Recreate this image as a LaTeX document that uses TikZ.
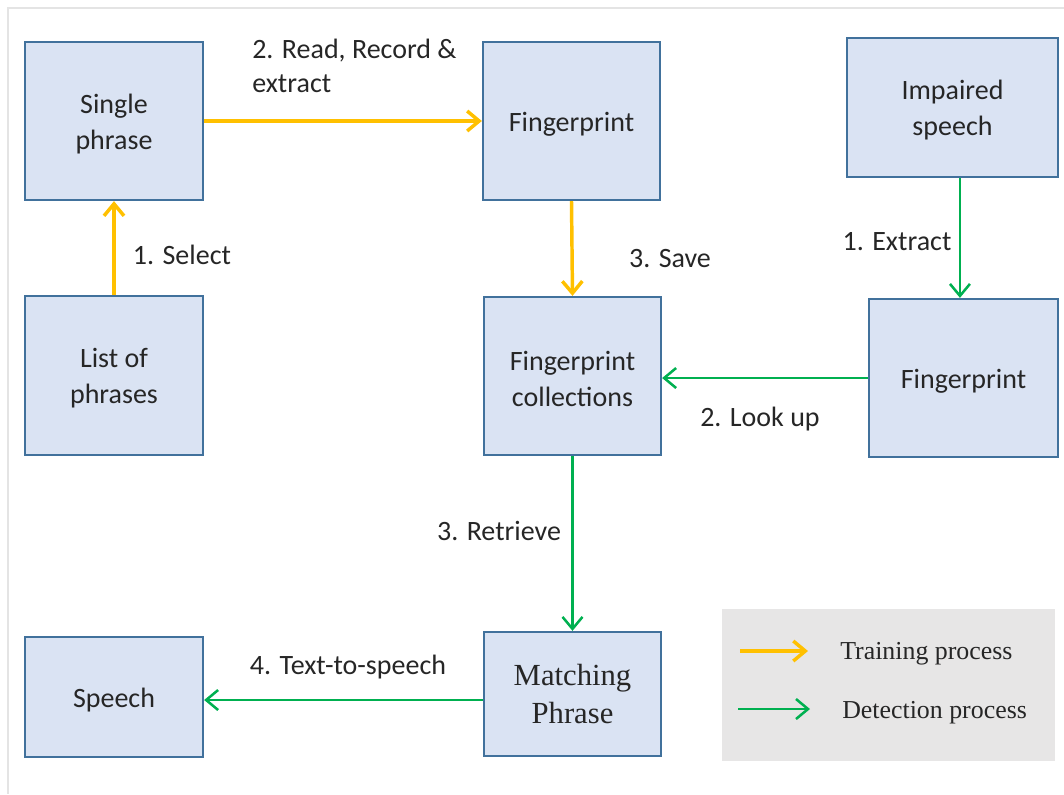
\documentclass[tikz,border=0pt]{standalone}
\usepackage{fontspec}
\setmainfont{Carlito}
\newfontfamily\tnr{Liberation Serif}
\usetikzlibrary{arrows.meta,calc}
\newcommand\toplift{\rule{0pt}{19pt}}
\definecolor{boxblue}{HTML}{41719C}
\definecolor{boxfill}{HTML}{DAE3F3}
\definecolor{trainc}{HTML}{FFC000}
\definecolor{detc}{HTML}{00B050}
\definecolor{txt}{HTML}{262626}
\definecolor{legbg}{HTML}{E7E6E6}
\definecolor{frame}{HTML}{E4E4E4}
\tikzset{
  procbox/.style={draw=boxblue, fill=boxfill, line width=1.7pt, inner sep=0pt,
    align=center, text=txt, font=\fontsize{21}{27}\selectfont},
  lbl/.style={text=txt, inner sep=0pt, font=\fontsize{21}{26}\selectfont},
  legtxt/.style={text=txt, inner sep=0pt, font=\tnr\fontsize{19.4}{23}\selectfont, anchor=west},
  trainarrow/.style={draw=trainc, line width=2.6pt, -{Straight Barb[length=9pt,width=15pt,line width=2.6pt]}},
  detarrow/.style={draw=detc, line width=1.9pt, -{Straight Barb[length=9pt,width=15pt,line width=1.9pt]}}
}
\begin{document}
\begin{tikzpicture}[x=0.75pt,y=-0.75pt]
\useasboundingbox (0,0) rectangle (1064,794);
% outer frame (top and left edges)
\draw[frame, line width=2pt] (8,794) -- (8,8) -- (1064,8);

% boxes
\node[procbox, minimum width=133.5pt, minimum height=118.5pt] (sp) at (114,121) {\toplift Single\\phrase};
\node[procbox, minimum width=132.75pt, minimum height=118.5pt] (fp1) at (571.5,121) {\toplift Fingerprint};
\node[procbox, minimum width=158.25pt, minimum height=104.25pt] (imp) at (952.5,107.5) {\toplift Impaired\\speech};
\node[procbox, minimum width=133.5pt, minimum height=119.25pt] (lp) at (114,375.5) {\toplift List of\\phrases};
\node[procbox, minimum width=132.75pt, minimum height=118.5pt] (fc) at (572.5,376) {\toplift Fingerprint\\collections};
\node[procbox, minimum width=141.75pt, minimum height=118.5pt] (fp2) at (963.5,378) {\toplift Fingerprint};
\node[procbox, minimum width=133.5pt, minimum height=90pt] (spc) at (114,697) {\toplift Speech};
\node[procbox, minimum width=132.75pt, minimum height=93pt, font=\tnr\fontsize{23}{28.5}\selectfont] (mp) at (572.5,694) {Matching\\Phrase};

% training arrows
\draw[trainarrow] (lp.north) -- (sp.south);
\draw[trainarrow] (sp.east) -- (fp1.west);
\draw[trainarrow] (fp1.south) -- (fc.north);

% detection arrows
\coordinate (e1) at ([xshift=5.6pt]imp.south);
\draw[detarrow] (e1) -- (e1 |- fp2.north);
\draw[detarrow] (fp2.west) -- (fp2.west -| fc.east);
\draw[detarrow] (fc.south) -- (mp.north);
\coordinate (m1) at ([yshift=-4.5pt]mp.west);
\draw[detarrow] (m1) -- (m1 -| spc.east);

% labels
\node[lbl, anchor=west, align=left] (l1) at (252,66) {2. Read, Record \&\\extract};
\node[lbl] (l2) at (182,255) {1. Select};
\node[lbl] (l3) at (670,259) {3. Save};
\node[lbl] (l4) at (897,242) {1. Extract};
\node[lbl] (l5) at (760,419) {2. Look up};
\node[lbl] (l6) at (499,531) {3. Retrieve};
\node[lbl] (l7) at (348,667) {4. Text-to-speech};

% legend
\node[fill=legbg, inner sep=0pt, minimum width=249.75pt, minimum height=114pt] (leg) at (888.5,685) {};
\coordinate (ya) at (740,651);
\coordinate (yb) at (808,651);
\coordinate (ga) at (738,709);
\coordinate (gb) at (810,709);
\draw[trainarrow] (ya) -- (yb);
\draw[detarrow] (ga) -- (gb);
\node[legtxt] (lt1) at (840,654) {Training process};
\node[legtxt] (lt2) at (842,713) {Detection process};
\end{tikzpicture}
\end{document}
